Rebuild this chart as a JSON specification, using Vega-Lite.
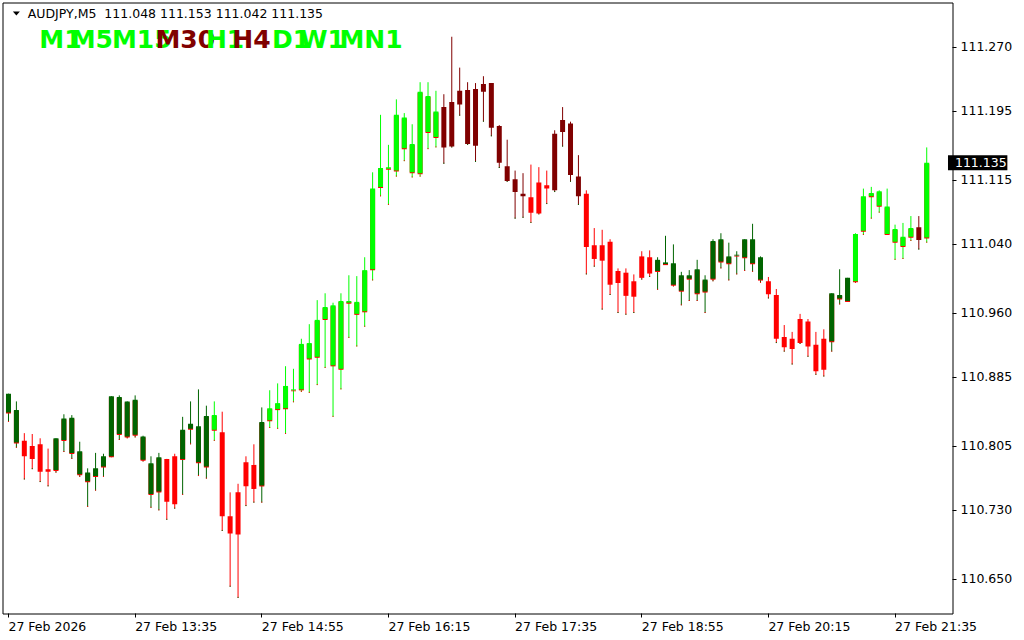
{
  "$schema": "https://vega.github.io/schema/vega-lite/v6.json",
  "width": 950,
  "height": 611,
  "autosize": {"type": "none"},
  "padding": {"left": 2.5, "top": 2.5, "right": 71.5, "bottom": 26.5},
  "background": "#ffffff",
  "datasets": {
    "bars": [
      {"t":"2026-02-27 12:15","open":110.866,"high":110.866,"low":110.833,"close":110.844,"state":"bull weak"},
      {"t":"2026-02-27 12:20","open":110.847,"high":110.857,"low":110.803,"close":110.809,"state":"bull weak"},
      {"t":"2026-02-27 12:25","open":110.811,"high":110.820,"low":110.766,"close":110.793,"state":"bear"},
      {"t":"2026-02-27 12:30","open":110.790,"high":110.819,"low":110.778,"close":110.805,"state":"bear"},
      {"t":"2026-02-27 12:35","open":110.807,"high":110.814,"low":110.763,"close":110.775,"state":"bear"},
      {"t":"2026-02-27 12:40","open":110.775,"high":110.802,"low":110.758,"close":110.778,"state":"bear"},
      {"t":"2026-02-27 12:45","open":110.777,"high":110.814,"low":110.774,"close":110.814,"state":"bull weak"},
      {"t":"2026-02-27 12:50","open":110.812,"high":110.842,"low":110.798,"close":110.837,"state":"bull weak"},
      {"t":"2026-02-27 12:55","open":110.838,"high":110.841,"low":110.790,"close":110.797,"state":"bull weak"},
      {"t":"2026-02-27 13:00","open":110.799,"high":110.810,"low":110.769,"close":110.772,"state":"bull weak"},
      {"t":"2026-02-27 13:05","open":110.774,"high":110.779,"low":110.734,"close":110.764,"state":"bull weak"},
      {"t":"2026-02-27 13:10","open":110.770,"high":110.797,"low":110.753,"close":110.779,"state":"bull weak"},
      {"t":"2026-02-27 13:15","open":110.781,"high":110.796,"low":110.769,"close":110.793,"state":"bull weak"},
      {"t":"2026-02-27 13:20","open":110.793,"high":110.863,"low":110.792,"close":110.863,"state":"bull weak"},
      {"t":"2026-02-27 13:25","open":110.862,"high":110.864,"low":110.812,"close":110.819,"state":"bull weak"},
      {"t":"2026-02-27 13:30","open":110.816,"high":110.857,"low":110.814,"close":110.857,"state":"bull weak"},
      {"t":"2026-02-27 13:35","open":110.859,"high":110.864,"low":110.815,"close":110.818,"state":"bull weak"},
      {"t":"2026-02-27 13:40","open":110.816,"high":110.817,"low":110.787,"close":110.789,"state":"bull weak"},
      {"t":"2026-02-27 13:45","open":110.785,"high":110.793,"low":110.733,"close":110.749,"state":"bull weak"},
      {"t":"2026-02-27 13:50","open":110.752,"high":110.797,"low":110.730,"close":110.792,"state":"bull weak"},
      {"t":"2026-02-27 13:55","open":110.790,"high":110.790,"low":110.719,"close":110.740,"state":"bear"},
      {"t":"2026-02-27 14:00","open":110.737,"high":110.796,"low":110.732,"close":110.793,"state":"bear"},
      {"t":"2026-02-27 14:05","open":110.790,"high":110.839,"low":110.748,"close":110.824,"state":"bull weak"},
      {"t":"2026-02-27 14:10","open":110.825,"high":110.857,"low":110.807,"close":110.831,"state":"bull weak"},
      {"t":"2026-02-27 14:15","open":110.828,"high":110.871,"low":110.770,"close":110.786,"state":"bull weak"},
      {"t":"2026-02-27 14:20","open":110.781,"high":110.852,"low":110.767,"close":110.840,"state":"bull weak"},
      {"t":"2026-02-27 14:25","open":110.841,"high":110.857,"low":110.811,"close":110.824,"state":"bull"},
      {"t":"2026-02-27 14:30","open":110.821,"high":110.845,"low":110.706,"close":110.723,"state":"bear"},
      {"t":"2026-02-27 14:35","open":110.723,"high":110.751,"low":110.641,"close":110.703,"state":"bear"},
      {"t":"2026-02-27 14:40","open":110.702,"high":110.761,"low":110.628,"close":110.751,"state":"bear"},
      {"t":"2026-02-27 14:45","open":110.758,"high":110.793,"low":110.735,"close":110.786,"state":"bear"},
      {"t":"2026-02-27 14:50","open":110.783,"high":110.807,"low":110.739,"close":110.755,"state":"bear"},
      {"t":"2026-02-27 14:55","open":110.759,"high":110.850,"low":110.739,"close":110.833,"state":"bull weak"},
      {"t":"2026-02-27 15:00","open":110.835,"high":110.870,"low":110.826,"close":110.849,"state":"bull"},
      {"t":"2026-02-27 15:05","open":110.848,"high":110.878,"low":110.825,"close":110.855,"state":"bull"},
      {"t":"2026-02-27 15:10","open":110.849,"high":110.898,"low":110.819,"close":110.875,"state":"bull"},
      {"t":"2026-02-27 15:15","open":110.871,"high":110.895,"low":110.856,"close":110.870,"state":"bull"},
      {"t":"2026-02-27 15:20","open":110.871,"high":110.930,"low":110.868,"close":110.924,"state":"bull"},
      {"t":"2026-02-27 15:25","open":110.925,"high":110.947,"low":110.867,"close":110.907,"state":"bull"},
      {"t":"2026-02-27 15:30","open":110.909,"high":110.975,"low":110.876,"close":110.952,"state":"bull"},
      {"t":"2026-02-27 15:35","open":110.953,"high":110.983,"low":110.896,"close":110.967,"state":"bull"},
      {"t":"2026-02-27 15:40","open":110.969,"high":110.972,"low":110.839,"close":110.899,"state":"bull"},
      {"t":"2026-02-27 15:45","open":110.895,"high":110.983,"low":110.871,"close":110.974,"state":"bull"},
      {"t":"2026-02-27 15:50","open":110.974,"high":111.004,"low":110.931,"close":110.972,"state":"bull"},
      {"t":"2026-02-27 15:55","open":110.973,"high":111.003,"low":110.921,"close":110.959,"state":"bull"},
      {"t":"2026-02-27 16:00","open":110.962,"high":111.025,"low":110.944,"close":111.010,"state":"bull"},
      {"t":"2026-02-27 16:05","open":111.011,"high":111.124,"low":110.998,"close":111.105,"state":"bull"},
      {"t":"2026-02-27 16:10","open":111.107,"high":111.191,"low":111.096,"close":111.129,"state":"bull"},
      {"t":"2026-02-27 16:15","open":111.128,"high":111.156,"low":111.086,"close":111.130,"state":"bull"},
      {"t":"2026-02-27 16:20","open":111.126,"high":111.209,"low":111.119,"close":111.191,"state":"bull"},
      {"t":"2026-02-27 16:25","open":111.188,"high":111.193,"low":111.137,"close":111.152,"state":"bull"},
      {"t":"2026-02-27 16:30","open":111.157,"high":111.180,"low":111.118,"close":111.124,"state":"bull"},
      {"t":"2026-02-27 16:35","open":111.123,"high":111.229,"low":111.119,"close":111.218,"state":"bull"},
      {"t":"2026-02-27 16:40","open":111.213,"high":111.229,"low":111.151,"close":111.171,"state":"bull"},
      {"t":"2026-02-27 16:45","open":111.165,"high":111.219,"low":111.153,"close":111.195,"state":"bull"},
      {"t":"2026-02-27 16:50","open":111.200,"high":111.215,"low":111.134,"close":111.153,"state":"bear weak"},
      {"t":"2026-02-27 16:55","open":111.154,"high":111.282,"low":111.153,"close":111.206,"state":"bear weak"},
      {"t":"2026-02-27 17:00","open":111.203,"high":111.246,"low":111.190,"close":111.219,"state":"bear weak"},
      {"t":"2026-02-27 17:05","open":111.220,"high":111.229,"low":111.156,"close":111.157,"state":"bear weak"},
      {"t":"2026-02-27 17:10","open":111.155,"high":111.228,"low":111.136,"close":111.221,"state":"bear weak"},
      {"t":"2026-02-27 17:15","open":111.218,"high":111.236,"low":111.183,"close":111.227,"state":"bear weak"},
      {"t":"2026-02-27 17:20","open":111.228,"high":111.228,"low":111.166,"close":111.176,"state":"bear weak"},
      {"t":"2026-02-27 17:25","open":111.178,"high":111.179,"low":111.129,"close":111.135,"state":"bear weak"},
      {"t":"2026-02-27 17:30","open":111.131,"high":111.162,"low":111.113,"close":111.114,"state":"bear weak"},
      {"t":"2026-02-27 17:35","open":111.116,"high":111.126,"low":111.070,"close":111.101,"state":"bear weak"},
      {"t":"2026-02-27 17:40","open":111.099,"high":111.123,"low":111.071,"close":111.096,"state":"bear weak"},
      {"t":"2026-02-27 17:45","open":111.095,"high":111.133,"low":111.065,"close":111.077,"state":"bear"},
      {"t":"2026-02-27 17:50","open":111.076,"high":111.130,"low":111.075,"close":111.112,"state":"bear"},
      {"t":"2026-02-27 17:55","open":111.109,"high":111.126,"low":111.087,"close":111.105,"state":"bear"},
      {"t":"2026-02-27 18:00","open":111.103,"high":111.173,"low":111.101,"close":111.169,"state":"bear weak"},
      {"t":"2026-02-27 18:05","open":111.171,"high":111.200,"low":111.154,"close":111.185,"state":"bear weak"},
      {"t":"2026-02-27 18:10","open":111.181,"high":111.183,"low":111.113,"close":111.121,"state":"bear weak"},
      {"t":"2026-02-27 18:15","open":111.119,"high":111.144,"low":111.086,"close":111.096,"state":"bear weak"},
      {"t":"2026-02-27 18:20","open":111.099,"high":111.103,"low":111.005,"close":111.037,"state":"bear"},
      {"t":"2026-02-27 18:25","open":111.039,"high":111.059,"low":111.014,"close":111.023,"state":"bear"},
      {"t":"2026-02-27 18:30","open":111.021,"high":111.057,"low":110.964,"close":111.039,"state":"bear"},
      {"t":"2026-02-27 18:35","open":111.043,"high":111.046,"low":110.981,"close":110.993,"state":"bear"},
      {"t":"2026-02-27 18:40","open":110.995,"high":111.012,"low":110.960,"close":111.009,"state":"bear"},
      {"t":"2026-02-27 18:45","open":111.007,"high":111.012,"low":110.958,"close":110.980,"state":"bear"},
      {"t":"2026-02-27 18:50","open":110.979,"high":111.005,"low":110.960,"close":110.997,"state":"bear"},
      {"t":"2026-02-27 18:55","open":111.001,"high":111.032,"low":110.999,"close":111.026,"state":"bear"},
      {"t":"2026-02-27 19:00","open":111.025,"high":111.033,"low":111.002,"close":111.006,"state":"bear"},
      {"t":"2026-02-27 19:05","open":111.009,"high":111.025,"low":110.987,"close":111.022,"state":"bull weak"},
      {"t":"2026-02-27 19:10","open":111.019,"high":111.050,"low":111.016,"close":111.017,"state":"bull weak"},
      {"t":"2026-02-27 19:15","open":111.018,"high":111.040,"low":110.991,"close":110.993,"state":"bull weak"},
      {"t":"2026-02-27 19:20","open":110.986,"high":111.008,"low":110.969,"close":111.004,"state":"bull weak"},
      {"t":"2026-02-27 19:25","open":111.004,"high":111.010,"low":110.974,"close":111.000,"state":"bull weak"},
      {"t":"2026-02-27 19:30","open":111.011,"high":111.022,"low":110.974,"close":110.983,"state":"bull weak"},
      {"t":"2026-02-27 19:35","open":110.985,"high":111.004,"low":110.960,"close":110.999,"state":"bull weak"},
      {"t":"2026-02-27 19:40","open":111.000,"high":111.046,"low":110.997,"close":111.044,"state":"bull weak"},
      {"t":"2026-02-27 19:45","open":111.046,"high":111.053,"low":111.012,"close":111.020,"state":"bull weak"},
      {"t":"2026-02-27 19:50","open":111.018,"high":111.042,"low":110.998,"close":111.026,"state":"bull weak"},
      {"t":"2026-02-27 19:55","open":111.027,"high":111.032,"low":111.005,"close":111.028,"state":"bull weak"},
      {"t":"2026-02-27 20:00","open":111.025,"high":111.046,"low":111.009,"close":111.046,"state":"bull weak"},
      {"t":"2026-02-27 20:05","open":111.046,"high":111.064,"low":111.008,"close":111.018,"state":"bull weak"},
      {"t":"2026-02-27 20:10","open":111.025,"high":111.026,"low":110.995,"close":110.999,"state":"bull weak"},
      {"t":"2026-02-27 20:15","open":110.997,"high":111.002,"low":110.977,"close":110.982,"state":"bear"},
      {"t":"2026-02-27 20:20","open":110.981,"high":110.988,"low":110.925,"close":110.930,"state":"bear"},
      {"t":"2026-02-27 20:25","open":110.932,"high":110.946,"low":110.915,"close":110.920,"state":"bear"},
      {"t":"2026-02-27 20:30","open":110.918,"high":110.938,"low":110.900,"close":110.930,"state":"bear"},
      {"t":"2026-02-27 20:35","open":110.925,"high":110.959,"low":110.924,"close":110.953,"state":"bear"},
      {"t":"2026-02-27 20:40","open":110.950,"high":110.953,"low":110.909,"close":110.921,"state":"bear"},
      {"t":"2026-02-27 20:45","open":110.923,"high":110.938,"low":110.888,"close":110.892,"state":"bear"},
      {"t":"2026-02-27 20:50","open":110.894,"high":110.941,"low":110.886,"close":110.930,"state":"bear"},
      {"t":"2026-02-27 20:55","open":110.927,"high":110.983,"low":110.915,"close":110.983,"state":"bull weak"},
      {"t":"2026-02-27 21:00","open":110.981,"high":111.011,"low":110.970,"close":110.977,"state":"bull weak"},
      {"t":"2026-02-27 21:05","open":110.974,"high":111.001,"low":110.973,"close":111.001,"state":"bull weak"},
      {"t":"2026-02-27 21:10","open":110.997,"high":111.053,"low":110.995,"close":111.052,"state":"bull"},
      {"t":"2026-02-27 21:15","open":111.056,"high":111.105,"low":111.051,"close":111.096,"state":"bull"},
      {"t":"2026-02-27 21:20","open":111.096,"high":111.107,"low":111.070,"close":111.100,"state":"bull"},
      {"t":"2026-02-27 21:25","open":111.102,"high":111.103,"low":111.077,"close":111.085,"state":"bull"},
      {"t":"2026-02-27 21:30","open":111.084,"high":111.105,"low":111.051,"close":111.052,"state":"bull"},
      {"t":"2026-02-27 21:35","open":111.058,"high":111.063,"low":111.022,"close":111.043,"state":"bull"},
      {"t":"2026-02-27 21:40","open":111.038,"high":111.065,"low":111.023,"close":111.049,"state":"bull"},
      {"t":"2026-02-27 21:45","open":111.049,"high":111.073,"low":111.044,"close":111.059,"state":"bull"},
      {"t":"2026-02-27 21:50","open":111.060,"high":111.073,"low":111.034,"close":111.045,"state":"bear weak"},
      {"t":"2026-02-27 21:55","open":111.048,"high":111.153,"low":111.042,"close":111.135,"state":"bull"}
    ],
    "tf": [
      {"tf":"M1","state":"bull"},
      {"tf":"M5","state":"bull"},
      {"tf":"M15","state":"bull"},
      {"tf":"M30","state":"bear weak"},
      {"tf":"H1","state":"bull"},
      {"tf":"H4","state":"bear weak"},
      {"tf":"D1","state":"bull"},
      {"tf":"W1","state":"bull"},
      {"tf":"MN1","state":"bull"}
    ]
  },
  "layer": [
    {
      "data": {"name": "bars"},
      "encoding": {
        "x": {
          "field": "t", "type": "temporal", "title": null,
          "scale": {"domain": [
            {"year":2026,"month":2,"date":27,"hours":12,"minutes":14,"seconds":22,"milliseconds":500},
            {"year":2026,"month":2,"date":27,"hours":22,"minutes":8,"seconds":7,"milliseconds":500}
          ], "nice": false},
          "axis": {
            "title": null, "orient": "bottom", "grid": false, "domain": false, "translate": 0,
            "values": [
              {"year":2026,"month":2,"date":27,"hours":12,"minutes":15},
              {"year":2026,"month":2,"date":27,"hours":13,"minutes":35},
              {"year":2026,"month":2,"date":27,"hours":14,"minutes":55},
              {"year":2026,"month":2,"date":27,"hours":16,"minutes":15},
              {"year":2026,"month":2,"date":27,"hours":17,"minutes":35},
              {"year":2026,"month":2,"date":27,"hours":18,"minutes":55},
              {"year":2026,"month":2,"date":27,"hours":20,"minutes":15},
              {"year":2026,"month":2,"date":27,"hours":21,"minutes":35}
            ],
            "labelExpr": "timeFormat(datum.value, '%H:%M') == '12:15' ? '27 Feb 2026' : timeFormat(datum.value, '%d %b %H:%M')",
            "labelAlign": "left", "labelBaseline": "top", "labelPadding": 3,
            "labelFlush": false, "labelOverlap": false, "labelBound": false,
            "tickSize": 4, "tickColor": "#000000", "tickWidth": 1,
            "labelFont": "DejaVu Sans", "labelFontSize": 12.5, "labelColor": "#000000"
          }
        }
      },
      "layer": [
        {
          "mark": {"type": "rule", "strokeWidth": 1, "clip": true},
          "encoding": {
            "y": {
              "field": "low", "type": "quantitative", "title": null,
              "scale": {"domain": [110.6098, 111.3219], "nice": false, "zero": false},
              "axis": {
                "title": null, "orient": "right", "grid": false, "domain": false, "translate": 0,
                "values": [110.65, 110.73, 110.805, 110.885, 110.96, 111.04, 111.115, 111.195, 111.27],
                "format": ".3f", "tickSize": 4, "tickColor": "#000000", "tickWidth": 1,
                "labelPadding": 4, "labelAlign": "left", "labelBaseline": "middle",
                "labelFont": "DejaVu Sans", "labelFontSize": 12.5, "labelColor": "#000000",
                "labelOverlap": false, "labelFlush": false, "labelBound": false
              }
            },
            "y2": {"field": "high"},
            "color": {"field": "state", "type": "nominal", "legend": null,
              "scale": {"domain": ["bull", "bull weak", "bear", "bear weak"], "range": ["#00ff00", "#006400", "#ff0000", "#800000"]}}
          }
        },
        {
          "mark": {"type": "rule", "strokeWidth": 1, "yOffset": -1, "clip": true},
          "encoding": {
            "y": {"field": "low", "type": "quantitative", "title": null},
            "y2": {"field": "low"},
            "color": {"condition": {"test": "datum.state == 'bull' || datum.state == 'bull weak'", "value": "#ff0000"}, "value": "#006400"}
          }
        },
        {
          "transform": [{"filter": "datum.state == 'bull' || datum.state == 'bull weak'"}],
          "mark": {"type": "bar", "width": 5, "yOffset": 1, "y2Offset": 1, "color": "#ff0000", "clip": true},
          "encoding": {
            "y": {"field": "open", "type": "quantitative", "title": null},
            "y2": {"field": "close"}
          }
        },
        {
          "mark": {"type": "bar", "width": 5, "clip": true},
          "encoding": {
            "y": {"field": "open", "type": "quantitative", "title": null},
            "y2": {"field": "close"},
            "color": {"field": "state", "type": "nominal", "legend": null,
              "scale": {"domain": ["bull", "bull weak", "bear", "bear weak"], "range": ["#00ff00", "#006400", "#ff0000", "#800000"]}}
          }
        },
        {
          "transform": [{"filter": "hours(toDate(datum.t)) == 21 && minutes(toDate(datum.t)) == 55"}],
          "mark": {"type": "rule", "strokeWidth": 15, "color": "#000000"},
          "encoding": {
            "x": {"datum": {"year":2026,"month":2,"date":27,"hours":22,"minutes":8,"seconds":26,"milliseconds":250}, "type": "temporal"},
            "x2": {"datum": {"year":2026,"month":2,"date":27,"hours":22,"minutes":45,"seconds":56,"milliseconds":250}},
            "y": {"field": "close", "type": "quantitative", "title": null}
          }
        },
        {
          "transform": [{"filter": "hours(toDate(datum.t)) == 21 && minutes(toDate(datum.t)) == 55"}],
          "mark": {"type": "text", "align": "left", "baseline": "middle", "color": "#ffffff", "font": "DejaVu Sans", "fontSize": 12.5},
          "encoding": {
            "x": {"datum": {"year":2026,"month":2,"date":27,"hours":22,"minutes":12,"seconds":49}, "type": "temporal"},
            "y": {"field": "close", "type": "quantitative", "title": null},
            "text": {"field": "close", "type": "quantitative", "format": ".3f"}
          }
        }
      ]
    },
    {
      "data": {"values": [{}]},
      "mark": {"type": "point", "shape": "M-1,-0.6L1,-0.6L0,0.6Z", "size": 49, "filled": true, "color": "#000000", "opacity": 1},
      "encoding": {
        "x": {"datum": {"year":2026,"month":2,"date":27,"hours":12,"minutes":20}, "type": "temporal"},
        "y": {"datum": 111.3091}
      }
    },
    {
      "data": {"values": [{}]},
      "mark": {"type": "text", "align": "left", "baseline": "alphabetic", "font": "DejaVu Sans", "fontSize": 12.5, "color": "#000000"},
      "encoding": {
        "x": {"datum": {"year":2026,"month":2,"date":27,"hours":12,"minutes":27,"seconds":11}, "type": "temporal"},
        "y": {"datum": 111.3042},
        "text": {"value": "AUDJPY,M5\u00a0 111.048 111.153 111.042 111.135"}
      }
    },
    {"data": {"name": "tf"}, "transform": [{"filter": "datum.tf == 'M1'"}],
     "mark": {"type": "text", "align": "left", "baseline": "alphabetic", "font": "DejaVu Sans", "fontSize": 25, "fontWeight": "bold"},
     "encoding": {"x": {"datum": {"year":2026,"month":2,"date":27,"hours":12,"minutes":34,"seconds":30}, "type": "temporal"}, "y": {"datum": 111.2692}, "text": {"field": "tf"},
       "color": {"field": "state", "type": "nominal", "legend": null, "scale": {"domain": ["bull", "bull weak", "bear", "bear weak"], "range": ["#00ff00", "#006400", "#ff0000", "#800000"]}}}},
    {"data": {"name": "tf"}, "transform": [{"filter": "datum.tf == 'M5'"}],
     "mark": {"type": "text", "align": "left", "baseline": "alphabetic", "font": "DejaVu Sans", "fontSize": 25, "fontWeight": "bold"},
     "encoding": {"x": {"datum": {"year":2026,"month":2,"date":27,"hours":12,"minutes":54,"seconds":15}, "type": "temporal"}, "y": {"datum": 111.2692}, "text": {"field": "tf"},
       "color": {"field": "state", "type": "nominal", "legend": null, "scale": {"domain": ["bull", "bull weak", "bear", "bear weak"], "range": ["#00ff00", "#006400", "#ff0000", "#800000"]}}}},
    {"data": {"name": "tf"}, "transform": [{"filter": "datum.tf == 'M15'"}],
     "mark": {"type": "text", "align": "left", "baseline": "alphabetic", "font": "DejaVu Sans", "fontSize": 25, "fontWeight": "bold"},
     "encoding": {"x": {"datum": {"year":2026,"month":2,"date":27,"hours":13,"minutes":20,"seconds":19}, "type": "temporal"}, "y": {"datum": 111.2692}, "text": {"field": "tf"},
       "color": {"field": "state", "type": "nominal", "legend": null, "scale": {"domain": ["bull", "bull weak", "bear", "bear weak"], "range": ["#00ff00", "#006400", "#ff0000", "#800000"]}}}},
    {"data": {"name": "tf"}, "transform": [{"filter": "datum.tf == 'M30'"}],
     "mark": {"type": "text", "align": "left", "baseline": "alphabetic", "font": "DejaVu Sans", "fontSize": 25, "fontWeight": "bold"},
     "encoding": {"x": {"datum": {"year":2026,"month":2,"date":27,"hours":13,"minutes":47,"seconds":49}, "type": "temporal"}, "y": {"datum": 111.2692}, "text": {"field": "tf"},
       "color": {"field": "state", "type": "nominal", "legend": null, "scale": {"domain": ["bull", "bull weak", "bear", "bear weak"], "range": ["#00ff00", "#006400", "#ff0000", "#800000"]}}}},
    {"data": {"name": "tf"}, "transform": [{"filter": "datum.tf == 'H1'"}],
     "mark": {"type": "text", "align": "left", "baseline": "alphabetic", "font": "DejaVu Sans", "fontSize": 25, "fontWeight": "bold"},
     "encoding": {"x": {"datum": {"year":2026,"month":2,"date":27,"hours":14,"minutes":19,"seconds":41}, "type": "temporal"}, "y": {"datum": 111.2692}, "text": {"field": "tf"},
       "color": {"field": "state", "type": "nominal", "legend": null, "scale": {"domain": ["bull", "bull weak", "bear", "bear weak"], "range": ["#00ff00", "#006400", "#ff0000", "#800000"]}}}},
    {"data": {"name": "tf"}, "transform": [{"filter": "datum.tf == 'H4'"}],
     "mark": {"type": "text", "align": "left", "baseline": "alphabetic", "font": "DejaVu Sans", "fontSize": 25, "fontWeight": "bold"},
     "encoding": {"x": {"datum": {"year":2026,"month":2,"date":27,"hours":14,"minutes":36,"seconds":23}, "type": "temporal"}, "y": {"datum": 111.2692}, "text": {"field": "tf"},
       "color": {"field": "state", "type": "nominal", "legend": null, "scale": {"domain": ["bull", "bull weak", "bear", "bear weak"], "range": ["#00ff00", "#006400", "#ff0000", "#800000"]}}}},
    {"data": {"name": "tf"}, "transform": [{"filter": "datum.tf == 'D1'"}],
     "mark": {"type": "text", "align": "left", "baseline": "alphabetic", "font": "DejaVu Sans", "fontSize": 25, "fontWeight": "bold"},
     "encoding": {"x": {"datum": {"year":2026,"month":2,"date":27,"hours":15,"minutes":1,"seconds":23}, "type": "temporal"}, "y": {"datum": 111.2692}, "text": {"field": "tf"},
       "color": {"field": "state", "type": "nominal", "legend": null, "scale": {"domain": ["bull", "bull weak", "bear", "bear weak"], "range": ["#00ff00", "#006400", "#ff0000", "#800000"]}}}},
    {"data": {"name": "tf"}, "transform": [{"filter": "datum.tf == 'W1'"}],
     "mark": {"type": "text", "align": "left", "baseline": "alphabetic", "font": "DejaVu Sans", "fontSize": 25, "fontWeight": "bold"},
     "encoding": {"x": {"datum": {"year":2026,"month":2,"date":27,"hours":15,"minutes":19,"seconds":4}, "type": "temporal"}, "y": {"datum": 111.2692}, "text": {"field": "tf"},
       "color": {"field": "state", "type": "nominal", "legend": null, "scale": {"domain": ["bull", "bull weak", "bear", "bear weak"], "range": ["#00ff00", "#006400", "#ff0000", "#800000"]}}}},
    {"data": {"name": "tf"}, "transform": [{"filter": "datum.tf == 'MN1'"}],
     "mark": {"type": "text", "align": "left", "baseline": "alphabetic", "font": "DejaVu Sans", "fontSize": 25, "fontWeight": "bold"},
     "encoding": {"x": {"datum": {"year":2026,"month":2,"date":27,"hours":15,"minutes":44,"seconds":4}, "type": "temporal"}, "y": {"datum": 111.2692}, "text": {"field": "tf"},
       "color": {"field": "state", "type": "nominal", "legend": null, "scale": {"domain": ["bull", "bull weak", "bear", "bear weak"], "range": ["#00ff00", "#006400", "#ff0000", "#800000"]}}}}
  ],
  "config": {
    "view": {"stroke": "#000000", "strokeWidth": 1, "fill": "#ffffff"},
    "font": "DejaVu Sans"
  }
}
